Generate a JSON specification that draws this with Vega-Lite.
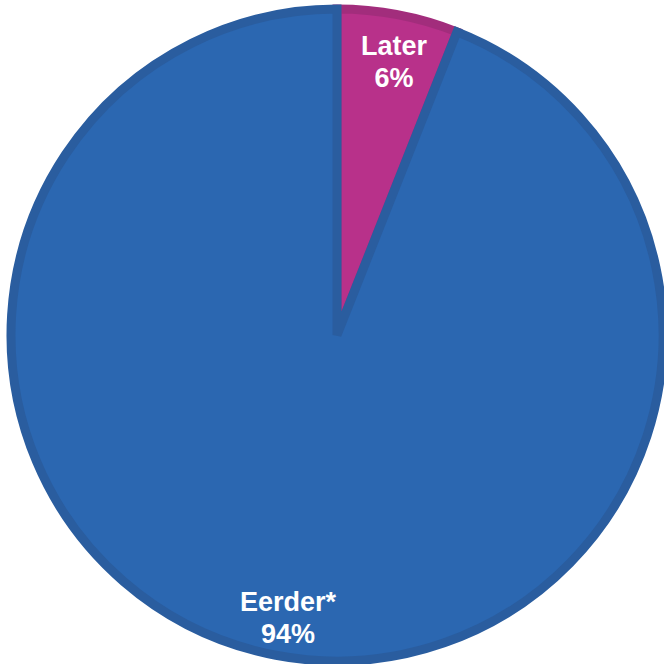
{
  "$schema": "https://vega.github.io/schema/vega-lite/v6.json",
  "width": 654,
  "height": 658,
  "padding": {"left": 10, "top": 6, "right": 0, "bottom": 0},
  "autosize": {"type": "none"},
  "background": "white",
  "view": {"stroke": null},
  "data": {
    "values": [
      {"category": "Later", "value": 6, "order": 1, "label": "Later\n6%"},
      {"category": "Eerder*", "value": 94, "order": 2, "label": "Eerder*\n94%"}
    ]
  },
  "encoding": {
    "theta": {"field": "value", "type": "quantitative", "stack": true},
    "order": {"field": "order", "type": "quantitative"}
  },
  "layer": [
    {
      "mark": {"type": "arc", "outerRadius": 326, "strokeWidth": 9, "strokeJoin": "miter"},
      "encoding": {
        "color": {
          "field": "category",
          "type": "nominal",
          "scale": {"domain": ["Later", "Eerder*"], "range": ["#B8318A", "#2B67B1"]},
          "legend": null
        },
        "stroke": {
          "field": "category",
          "type": "nominal",
          "scale": {"domain": ["Later", "Eerder*"], "range": ["#A22D7C", "#2A5D9F"]},
          "legend": null
        }
      }
    },
    {
      "mark": {
        "type": "text",
        "radius": 283,
        "dx": 4,
        "dy": -10,
        "font": "Liberation Sans",
        "fontWeight": "bold",
        "fontSize": 27,
        "lineHeight": 32,
        "lineBreak": "\n",
        "color": "white",
        "align": "center",
        "baseline": "middle"
      },
      "encoding": {
        "text": {"field": "label", "type": "nominal"}
      }
    }
  ]
}
